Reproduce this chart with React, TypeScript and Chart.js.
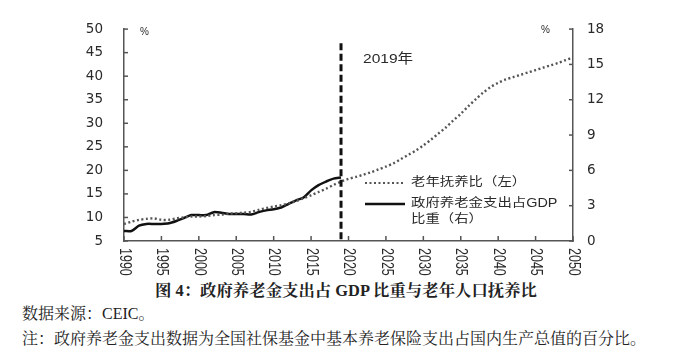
import React, { useEffect, useRef } from 'react';
import { Chart, registerables } from 'chart.js';

Chart.register(...registerables);

const years = [
  1990, 1991, 1992, 1993, 1994, 1995, 1996, 1997, 1998, 1999,
  2000, 2001, 2002, 2003, 2004, 2005, 2006, 2007, 2008, 2009,
  2010, 2011, 2012, 2013, 2014, 2015, 2016, 2017, 2018, 2019,
  2020, 2021, 2022, 2023, 2024, 2025, 2026, 2027, 2028, 2029,
  2030, 2031, 2032, 2033, 2034, 2035, 2036, 2037, 2038, 2039,
  2040, 2041, 2042, 2043, 2044, 2045, 2046, 2047, 2048, 2049, 2050,
];

// 老年抚养比（左）
const dependencyRatio = [
  8.6, 9.1, 9.5, 9.7, 9.8, 9.5, 9.5, 9.8, 10.0, 10.2,
  10.2, 10.3, 10.5, 10.6, 10.8, 10.9, 11.0, 11.2, 11.6, 12.0,
  12.3, 12.6, 13.0, 13.5, 14.1, 14.7, 15.4, 16.1, 16.9, 17.6,
  18.2, 18.6, 19.1, 19.6, 20.2, 20.8, 21.5, 22.4, 23.3, 24.2,
  25.3, 26.5, 27.8, 29.1, 30.6, 32.0, 33.6, 35.1, 36.5, 37.7,
  38.6, 39.3, 39.8, 40.3, 40.8, 41.3, 41.8, 42.3, 42.8, 43.4, 44.0,
];

// 政府养老金支出占GDP比重（右）
const pensionYears = [
  1990, 1991, 1992, 1993, 1994, 1995, 1996, 1997, 1998, 1999,
  2000, 2001, 2002, 2003, 2004, 2005, 2006, 2007, 2008, 2009,
  2010, 2011, 2012, 2013, 2014, 2015, 2016, 2017, 2018, 2019,
];
const pensionShare = [
  0.85, 0.85, 1.3, 1.45, 1.45, 1.45, 1.5, 1.7, 1.95, 2.2,
  2.2, 2.2, 2.45, 2.4, 2.3, 2.3, 2.3, 2.25, 2.45, 2.6,
  2.7, 2.85, 3.15, 3.45, 3.7, 4.3, 4.75, 5.05, 5.3, 5.4,
];

const xTickLabels = ['1990', '1995', '2000', '2005', '2010', '2015', '2020', '2025', '2030', '2035', '2040', '2045', '2050'];
const markerYear = 2019;
const markerLabel = '2019年';
const legendLabels = ['老年抚养比（左）', '政府养老金支出占GDP', '比重（右）'];

const SANS = '"Liberation Sans", "Noto Sans CJK SC", sans-serif';
const SERIF = '"Liberation Serif", "Noto Serif CJK SC", "Noto Sans CJK SC", serif';
const AXIS = '#555';
const TEXT = '#2a2a2a';

function drawText(ctx: CanvasRenderingContext2D, text: string, x: number, y: number, font: string, sx = 1.2, align: CanvasTextAlign = 'left') {
  ctx.save();
  ctx.translate(x, y);
  ctx.scale(sx, 1);
  ctx.font = font;
  ctx.fillStyle = TEXT;
  ctx.textAlign = align;
  ctx.textBaseline = 'middle';
  ctx.fillText(text, 0, 0);
  ctx.restore();
}

const overlay = {
  id: 'overlay',
  afterDraw(chart: any) {
    const { ctx, chartArea } = chart;
    const { left, right, bottom } = chartArea;
    const xs = chart.scales.x;
    const yl = chart.scales.y;
    const yr = chart.scales.y1;
    ctx.save();
    ctx.strokeStyle = AXIS;
    ctx.lineWidth = 1.5;
    // inward tick marks
    xTickLabels.forEach((l) => {
      const px = xs.getPixelForValue(Number(l));
      ctx.beginPath();
      ctx.moveTo(px, bottom);
      ctx.lineTo(px, bottom - 5);
      ctx.stroke();
    });
    yl.ticks.forEach((t: any) => {
      const py = yl.getPixelForValue(t.value);
      ctx.beginPath();
      ctx.moveTo(left, py);
      ctx.lineTo(left + 4, py);
      ctx.stroke();
    });
    yr.ticks.forEach((t: any) => {
      const py = yr.getPixelForValue(t.value);
      ctx.beginPath();
      ctx.moveTo(right, py);
      ctx.lineTo(right - 4, py);
      ctx.stroke();
    });
    // rotated x labels (reading downward)
    xTickLabels.forEach((l) => {
      const px = xs.getPixelForValue(Number(l));
      ctx.save();
      ctx.translate(px, bottom + 7);
      ctx.rotate(Math.PI / 2);
      ctx.scale(1, 1.25);
      ctx.font = '12.5px ' + SANS;
      ctx.fillStyle = TEXT;
      ctx.textAlign = 'left';
      ctx.textBaseline = 'middle';
      ctx.fillText(l, 0, 0);
      ctx.restore();
    });
    // 2019 marker
    const mx = xs.getPixelForValue(markerYear);
    ctx.strokeStyle = '#111';
    ctx.lineWidth = 3;
    ctx.setLineDash([7, 3.5]);
    ctx.beginPath();
    ctx.moveTo(mx, yl.getPixelForValue(47));
    ctx.lineTo(mx, bottom);
    ctx.stroke();
    ctx.setLineDash([]);
    drawText(ctx, markerLabel, 363, 59, '13.5px ' + SANS, 1.15);
    // percent units
    drawText(ctx, '%', 140, 32, '10px ' + SANS, 1.0);
    drawText(ctx, '%', 541, 30, '10px ' + SANS, 1.0);
    // legend
    ctx.strokeStyle = '#555';
    ctx.lineWidth = 2.2;
    ctx.setLineDash([2, 2.5]);
    ctx.beginPath();
    ctx.moveTo(365, 183);
    ctx.lineTo(405, 183);
    ctx.stroke();
    ctx.setLineDash([]);
    ctx.strokeStyle = '#111';
    ctx.lineWidth = 2.5;
    ctx.beginPath();
    ctx.moveTo(365, 204);
    ctx.lineTo(405, 204);
    ctx.stroke();
    drawText(ctx, legendLabels[0], 411, 183, '12px ' + SANS, 1.2);
    drawText(ctx, legendLabels[1], 411, 204, '12px ' + SANS, 1.2);
    drawText(ctx, legendLabels[2], 411, 220, '12px ' + SANS, 1.2);
    ctx.restore();
  },
};

function ChartView() {
  const ref = useRef<HTMLCanvasElement | null>(null);
  useEffect(() => {
    if (!ref.current) return;
    const chart = new Chart(ref.current, {
      type: 'line',
      data: {
        datasets: [
          {
            label: '老年抚养比（左）',
            data: years.map((y, i) => ({ x: y, y: dependencyRatio[i] })),
            yAxisID: 'y',
            borderColor: '#555',
            borderWidth: 2.4,
            borderDash: [2, 2.5],
            pointRadius: 0,
            tension: 0.3,
            fill: false,
          },
          {
            label: '政府养老金支出占GDP比重（右）',
            data: pensionYears.map((y, i) => ({ x: y, y: pensionShare[i] })),
            yAxisID: 'y1',
            borderColor: '#111',
            borderWidth: 2.5,
            pointRadius: 0,
            tension: 0.25,
            fill: false,
          },
        ],
      },
      options: {
        responsive: false,
        animation: false,
        devicePixelRatio: 1,
        layout: { padding: { top: 22, left: 0, right: 0, bottom: 0 } },
        plugins: { legend: { display: false }, tooltip: { enabled: false } },
        scales: {
          x: {
            type: 'linear',
            min: 1990,
            max: 2050,
            grid: { display: false, drawTicks: false },
            border: { display: true, color: AXIS, width: 1.5 },
            ticks: { display: false, stepSize: 5 },
            afterFit: (s: any) => { s.height = 39; },
          },
          y: {
            position: 'left',
            min: 5,
            max: 50,
            grid: { display: false, drawTicks: false },
            border: { display: true, color: AXIS, width: 1.5 },
            ticks: { stepSize: 5, padding: 21, color: TEXT, font: { family: '"DejaVu Sans"', size: 13.5 } },
            afterFit: (s: any) => { s.width = 124; },
          },
          y1: {
            position: 'right',
            min: 0,
            max: 18,
            grid: { display: false, drawTicks: false },
            border: { display: true, color: AXIS, width: 1.5 },
            ticks: { stepSize: 3, padding: 14, color: TEXT, font: { family: '"DejaVu Sans"', size: 13.5 } },
            afterFit: (s: any) => { s.width = 104; },
          },
        },
      },
      plugins: [overlay],
    });
    return () => chart.destroy();
  }, []);
  return <canvas ref={ref} width={677} height={280} style={{ display: 'block', width: 677, height: 280 }} />;
}

export default function App() {
  const base: React.CSSProperties = { position: 'absolute', whiteSpace: 'nowrap', fontFamily: SERIF, color: '#222', lineHeight: '20px' };
  return (
    <div style={{ position: 'fixed', left: 0, top: 0, width: 677, height: 354, background: '#fff', overflow: 'hidden' }}>
      <ChartView />
      <div style={{ ...base, left: 155, top: 281, fontSize: 16.4, fontWeight: 'bold' }}>图 4：政府养老金支出占 GDP 比重与老年人口抚养比</div>
      <div style={{ ...base, left: 22, top: 304, fontSize: 16 }}>数据来源：CEIC。</div>
      <div style={{ ...base, left: 22, top: 329, fontSize: 16 }}>注：政府养老金支出数据为全国社保基金中基本养老保险支出占国内生产总值的百分比。</div>
    </div>
  );
}
